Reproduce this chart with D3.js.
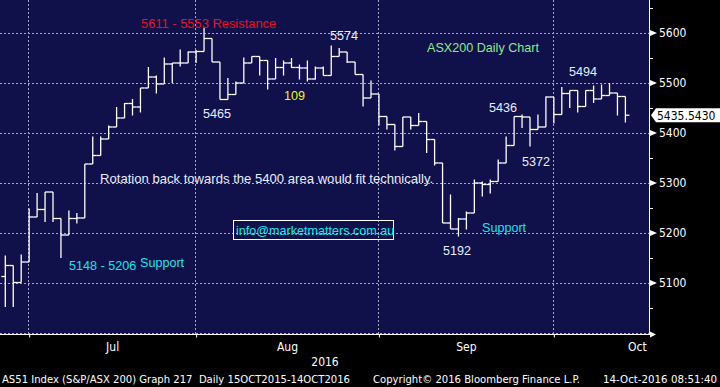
<!DOCTYPE html>
<html>
<head>
<meta charset="utf-8">
<script src="https://cdn.jsdelivr.net/npm/d3@7/dist/d3.min.js"></script>
<style>
  body { margin: 0; background: #000; }
  svg { display: block; }
</style>
</head>
<body>
<div id="chart"></div>
<script>
// daily bars, ASX200 (AS51), 27 Jun - 13 Oct 2016
const dates = [
  "2016-06-27","2016-06-28","2016-06-29","2016-06-30",
  "2016-07-01","2016-07-04","2016-07-05","2016-07-06","2016-07-07","2016-07-08",
  "2016-07-11","2016-07-12","2016-07-13","2016-07-14","2016-07-15",
  "2016-07-18","2016-07-19","2016-07-20","2016-07-21","2016-07-22",
  "2016-07-25","2016-07-26","2016-07-27","2016-07-28","2016-07-29",
  "2016-08-01","2016-08-02","2016-08-03","2016-08-04","2016-08-05",
  "2016-08-08","2016-08-09","2016-08-10","2016-08-11","2016-08-12",
  "2016-08-15","2016-08-16","2016-08-17","2016-08-18","2016-08-19",
  "2016-08-22","2016-08-23","2016-08-24","2016-08-25","2016-08-26",
  "2016-08-29","2016-08-30","2016-08-31",
  "2016-09-01","2016-09-02","2016-09-05","2016-09-06","2016-09-07","2016-09-08","2016-09-09",
  "2016-09-12","2016-09-13","2016-09-14","2016-09-15","2016-09-16",
  "2016-09-19","2016-09-20","2016-09-21","2016-09-22","2016-09-23",
  "2016-09-26","2016-09-27","2016-09-28","2016-09-29","2016-09-30",
  "2016-10-03","2016-10-04","2016-10-05","2016-10-06","2016-10-07",
  "2016-10-10","2016-10-11","2016-10-12","2016-10-13"
];
const open = [
  5113, 5135, 5101, 5142,
  5232, 5247, 5282, 5229, 5196, 5229,
  5230, 5338, 5355, 5388, 5412,
  5430, 5459, 5452, 5490, 5512,
  5498, 5538, 5540, 5540, 5562,
  5563, 5589, 5542, 5467, 5477,
  5500, 5540, 5553, 5545, 5508,
  5531, 5540, 5531, 5530, 5508,
  5530, 5515, 5553, 5562, 5542,
  5517, 5470, 5478,
  5433, 5417, 5373, 5432, 5415, 5423, 5387,
  5340, 5220, 5208, 5228, 5240,
  5300, 5297, 5303, 5340, 5375,
  5433, 5432, 5407, 5412, 5472,
  5437, 5479, 5485, 5453, 5485,
  5468, 5475, 5480, 5473
];
const high = [
  5155, 5135, 5157, 5249,
  5280, 5282, 5282, 5229, 5245, 5240,
  5338, 5393, 5393, 5415, 5452,
  5460, 5468, 5490, 5532, 5515,
  5551, 5540, 5567, 5563, 5566,
  5611, 5589, 5542, 5510, 5503,
  5551, 5553, 5553, 5545, 5550,
  5545, 5550, 5537, 5545, 5533,
  5533, 5575, 5570, 5562, 5542,
  5517, 5505, 5478,
  5433, 5417, 5432, 5432, 5440, 5423, 5387,
  5340, 5277, 5230, 5243, 5307,
  5303, 5307, 5347, 5393, 5433,
  5437, 5432, 5437, 5473, 5472,
  5492, 5485, 5485, 5485, 5495,
  5497, 5500, 5480, 5473
];
const low = [
  5052, 5052, 5101, 5142,
  5232, 5222, 5222, 5150, 5196, 5219,
  5230, 5338, 5355, 5388, 5412,
  5430, 5435, 5441, 5490, 5479,
  5498, 5500, 5533, 5540, 5540,
  5563, 5542, 5467, 5467, 5477,
  5500, 5540, 5515, 5487, 5508,
  5515, 5530, 5507, 5503, 5507,
  5515, 5515, 5553, 5540, 5517,
  5453, 5470, 5415,
  5407, 5365, 5373, 5407, 5415, 5360, 5335,
  5220, 5208, 5193, 5207, 5240,
  5273, 5279, 5303, 5340, 5375,
  5410, 5373, 5407, 5412, 5419,
  5437, 5450, 5441, 5453, 5460,
  5468, 5475, 5435, 5421
];
const close = [
  5135, 5101, 5142, 5232,
  5247, 5282, 5229, 5196, 5229, 5230,
  5338, 5355, 5388, 5412, 5430,
  5459, 5452, 5490, 5512, 5498,
  5538, 5540, 5540, 5562, 5563,
  5589, 5542, 5467, 5477, 5500,
  5540, 5553, 5545, 5508, 5531,
  5540, 5531, 5530, 5508, 5530,
  5515, 5553, 5562, 5542, 5517,
  5470, 5478, 5433,
  5417, 5373, 5432, 5415, 5423, 5387, 5340,
  5220, 5208, 5228, 5240, 5300,
  5297, 5303, 5340, 5375, 5433,
  5432, 5407, 5412, 5472, 5437,
  5479, 5485, 5453, 5485, 5468,
  5475, 5480, 5473, 5435.543
];

// axis values
const yTicks = [5100, 5200, 5300, 5400, 5500, 5600];
const yMinor = [5050, 5150, 5250, 5350, 5450, 5550, 5650];
const gridValues = [5000, 5100, 5200, 5300, 5400, 5500, 5600];
const monthTicks = ["2016-06-30", "2016-07-29", "2016-08-31", "2016-09-30"];
const monthLabels = ["Jul", "Aug", "Sep", "Oct"];
const yearLabel = "2016";
const lastPrice = "5435.5430";

const W = 720, H = 387;
const plotW = 649, plotH = 334;

const svg = d3.select("#chart").append("svg")
    .attr("width", W)
    .attr("height", H)
    .style("background", "#000");

const x = d3.scalePoint()
    .domain(dates)
    .range([5.3, 625.4]);

const y = d3.scaleLinear()
    .domain([5100, 5600])
    .range([283, 33]);

const step = x.step();

// plot area
svg.append("rect")
    .attr("x", 0).attr("y", 0)
    .attr("width", plotW).attr("height", plotH)
    .attr("fill", "#10104a");

// dotted grid
svg.append("g")
    .selectAll("line")
    .data(gridValues)
    .enter().append("line")
    .attr("x1", 0).attr("x2", plotW)
    .attr("y1", d => Math.round(y(d)) + 0.5)
    .attr("y2", d => Math.round(y(d)) + 0.5)
    .attr("stroke", "#a8a8c0")
    .attr("stroke-width", 1)
    .attr("stroke-dasharray", "2,2");

svg.append("g")
    .selectAll("line")
    .data(monthTicks)
    .enter().append("line")
    .attr("x1", d => Math.round(x(d)) - 0.5)
    .attr("x2", d => Math.round(x(d)) - 0.5)
    .attr("y1", 0).attr("y2", plotH)
    .attr("stroke", "#a8a8c0")
    .attr("stroke-width", 1)
    .attr("stroke-dasharray", "2,2");

// OHLC bars
const bars = svg.append("g")
    .attr("stroke", "#ffffff")
    .attr("stroke-width", 1.3)
    .selectAll("g")
    .data(dates)
    .enter().append("g");

bars.append("line")
    .attr("x1", d => x(d)).attr("x2", d => x(d))
    .attr("y1", (d, i) => y(high[i]))
    .attr("y2", (d, i) => y(low[i]));

bars.append("line")
    .attr("x1", d => x(d) - step / 2).attr("x2", d => x(d))
    .attr("y1", (d, i) => y(open[i]))
    .attr("y2", (d, i) => y(open[i]));

bars.append("line")
    .attr("x1", d => x(d)).attr("x2", d => x(d) + step / 2)
    .attr("y1", (d, i) => y(close[i]))
    .attr("y2", (d, i) => y(close[i]));

// right axis
const axisFont = "'DejaVu Sans Condensed', 'DejaVu Sans', sans-serif";

const yAxis = svg.append("g")
    .attr("transform", `translate(${plotW},0)`)
    .call(d3.axisRight(y).tickValues(yTicks).tickSize(0).tickPadding(10).tickFormat(d3.format("d")));
yAxis.select(".domain").remove();
yAxis.selectAll("text")
    .attr("fill", "#ffffff")
    .style("font-family", axisFont)
    .style("font-size", "12px");

const yMinorAxis = svg.append("g")
    .attr("transform", `translate(${plotW},0)`)
    .call(d3.axisRight(y).tickValues(yMinor).tickSize(4).tickFormat(""));
yMinorAxis.select(".domain").remove();
yMinorAxis.selectAll("line").attr("stroke", "#ffffff");

svg.append("line")
    .attr("x1", plotW + 0.5).attr("x2", plotW + 0.5)
    .attr("y1", 0).attr("y2", plotH + 1)
    .attr("stroke", "#ffffff");

// little arrow heads on the major ticks
svg.append("g")
    .selectAll("path")
    .data(yTicks)
    .enter().append("path")
    .attr("d", d => `M${plotW + 1},${y(d) - 3}L${plotW + 8},${y(d)}L${plotW + 1},${y(d) + 3}Z`)
    .attr("fill", "#ffffff");

// bottom axis
const xAxis = svg.append("g")
    .attr("transform", `translate(0,${plotH + 0.5})`)
    .call(d3.axisBottom(x).tickValues(monthTicks).tickSize(3).tickFormat(""));
xAxis.select(".domain")
    .attr("stroke", "#ffffff")
    .attr("d", `M0,0H${plotW + 1}`);
xAxis.selectAll("line").attr("stroke", "#ffffff");

svg.append("path")
    .attr("d", `M${plotW + 1},${plotH - 2.5}L${plotW + 7},${plotH + 0.5}L${plotW + 1},${plotH + 3.5}Z`)
    .attr("fill", "#ffffff");

// month labels centred between month ticks
const monthPos = monthTicks.map((d, i) => {
    const a = x(d);
    const b = i < monthTicks.length - 1 ? x(monthTicks[i + 1]) : a + 21 * step;
    return (a + b) / 2;
});

svg.append("g")
    .selectAll("text")
    .data(monthLabels)
    .enter().append("text")
    .attr("x", (d, i) => monthPos[i])
    .attr("y", 351)
    .attr("text-anchor", "middle")
    .attr("fill", "#ffffff")
    .style("font-family", axisFont)
    .style("font-size", "12px")
    .text(d => d);

svg.append("text")
    .attr("x", 325).attr("y", 366)
    .attr("text-anchor", "middle")
    .attr("fill", "#ffffff")
    .style("font-family", axisFont)
    .style("font-size", "12px")
    .text(yearLabel);

// last price tag
const yLast = y(close[close.length - 1]);
svg.append("path")
    .attr("d", `M${plotW + 2},${yLast}L${plotW + 7},${yLast - 7}H${W}V${yLast + 7}H${plotW + 7}Z`)
    .attr("fill", "#ffffff");
svg.append("text")
    .attr("x", plotW + 8).attr("y", yLast + 4.5)
    .attr("fill", "#000000")
    .style("font-family", axisFont)
    .style("font-size", "12px")
    .text(lastPrice);

// footer
const footer = [
    { x: 2, w: 348, t: "AS51 Index (S&P/ASX 200) Graph 217  Daily 15OCT2015-14OCT2016" },
    { x: 373, w: 207, t: "Copyright\u00A9 2016 Bloomberg Finance L.P." },
    { x: 603, w: 114, t: "14-Oct-2016 08:51:40" }
];
svg.append("g")
    .selectAll("text")
    .data(footer)
    .enter().append("text")
    .attr("x", d => d.x).attr("y", 383)
    .attr("textLength", d => d.w)
    .attr("lengthAdjust", "spacingAndGlyphs")
    .attr("fill", "#ffffff")
    .style("font-family", axisFont)
    .style("font-size", "11px")
    .style("white-space", "pre")
    .attr("xml:space", "preserve")
    .text(d => d.t);

// annotations
const noteFont = "'Liberation Sans', Arial, sans-serif";
function note(tx, ty, txt, color, anchor, size) {
    return svg.append("text")
        .attr("x", tx).attr("y", ty)
        .attr("text-anchor", anchor || "start")
        .attr("fill", color)
        .style("font-family", noteFont)
        .style("font-size", (size || 12.6) + "px")
        .text(txt);
}

const white = "#e8eeff", cyan = "#1ee3ea";
note(141, 28, "5611 - 5553 Resistance", "#e8101e", "start", 12.9);
note(217, 118, "5465", white, "middle");
note(284, 100, "109", "#f2f21e");
note(330, 40, "5574", white);
note(427, 52, "ASX200 Daily Chart", "#8ee88e");
note(569, 76, "5494", white);
note(489, 112, "5436", white);
note(522, 166, "5372", white);
note(443, 255, "5192", white);
note(482, 232, "Support", cyan);
note(100, 183, "Rotation back towards the 5400 area would fit technically.", white, "start", 13.1);
note(69, 270, "5148 - 5206", cyan);
note(140, 267, "Support", cyan);

svg.append("rect")
    .attr("x", 233.5).attr("y", 220.5)
    .attr("width", 160).attr("height", 19)
    .attr("fill", "none")
    .attr("stroke", "#ffffff");
note(236, 235, "info@marketmatters.com.au", cyan);
</script>
</body>
</html>
